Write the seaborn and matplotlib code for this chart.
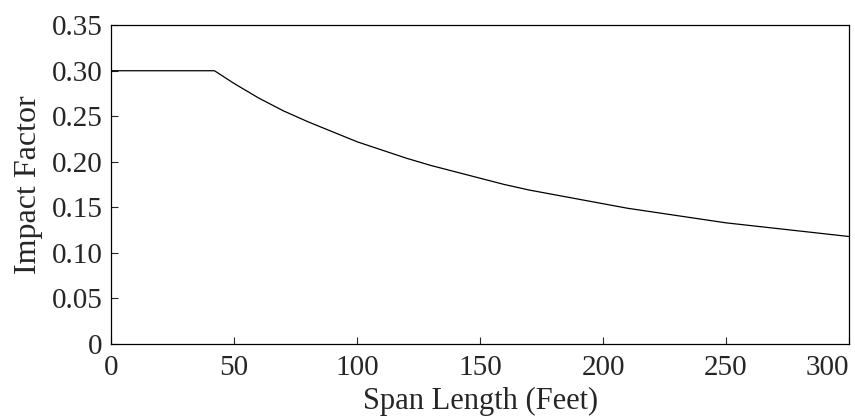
import numpy as np
import pandas as pd
import seaborn as sns
import matplotlib.pyplot as plt
from matplotlib.ticker import FuncFormatter

# Values
span_ft = [0, 10, 20, 30, 42, 50, 60, 70, 80, 90, 100, 110, 120, 130, 140, 150,
           160, 170, 180, 190, 200, 210, 220, 230, 240, 250, 260, 270, 280, 290, 300]
impact = [0.300, 0.300, 0.300, 0.300, 0.300, 0.286, 0.270, 0.256, 0.244, 0.233,
          0.222, 0.213, 0.204, 0.196, 0.189, 0.182, 0.175, 0.169, 0.164, 0.159,
          0.154, 0.149, 0.145, 0.141, 0.137, 0.133, 0.130, 0.127, 0.124, 0.121, 0.118]
x_ticks = [0, 50, 100, 150, 200, 250, 300]
y_ticks = [0, 0.05, 0.10, 0.15, 0.20, 0.25, 0.30, 0.35]

df = pd.DataFrame({'Span': span_ft, 'Impact': impact})

sns.set_style('ticks')
plt.rcParams['font.family'] = ['Liberation Serif', 'DejaVu Serif']
plt.rcParams['xtick.direction'] = 'in'
plt.rcParams['ytick.direction'] = 'in'

fig = plt.figure(figsize=(8.55, 4.2), dpi=100)
ax = fig.add_axes([0.130, 0.181, 0.863, 0.759])

sns.lineplot(data=df, x='Span', y='Impact', color='black', linewidth=0.9, ax=ax)

ax.set_xlim(0, 300)
ax.set_ylim(0, 0.35)
ax.set_xticks(x_ticks)
ax.set_yticks(y_ticks)
ax.yaxis.set_major_formatter(FuncFormatter(lambda v, p: '0' if v == 0 else f'{v:.2f}'))
ax.tick_params(labelsize=21, length=5, width=0.8)
ax.tick_params(axis='y', pad=6)
ax.tick_params(axis='x', pad=8)
for s in ax.spines.values():
    s.set_linewidth(0.9)
    s.set_color('black')

labels = ax.get_xticklabels()
labels[-1].set_horizontalalignment('right')
labels[-1].set_x(300)

ax.set_xlabel('Span Length (Feet)', fontsize=22, labelpad=4)
ax.set_ylabel('Impact Factor', fontsize=23, labelpad=6)

fig.savefig('out.png', dpi=100)
